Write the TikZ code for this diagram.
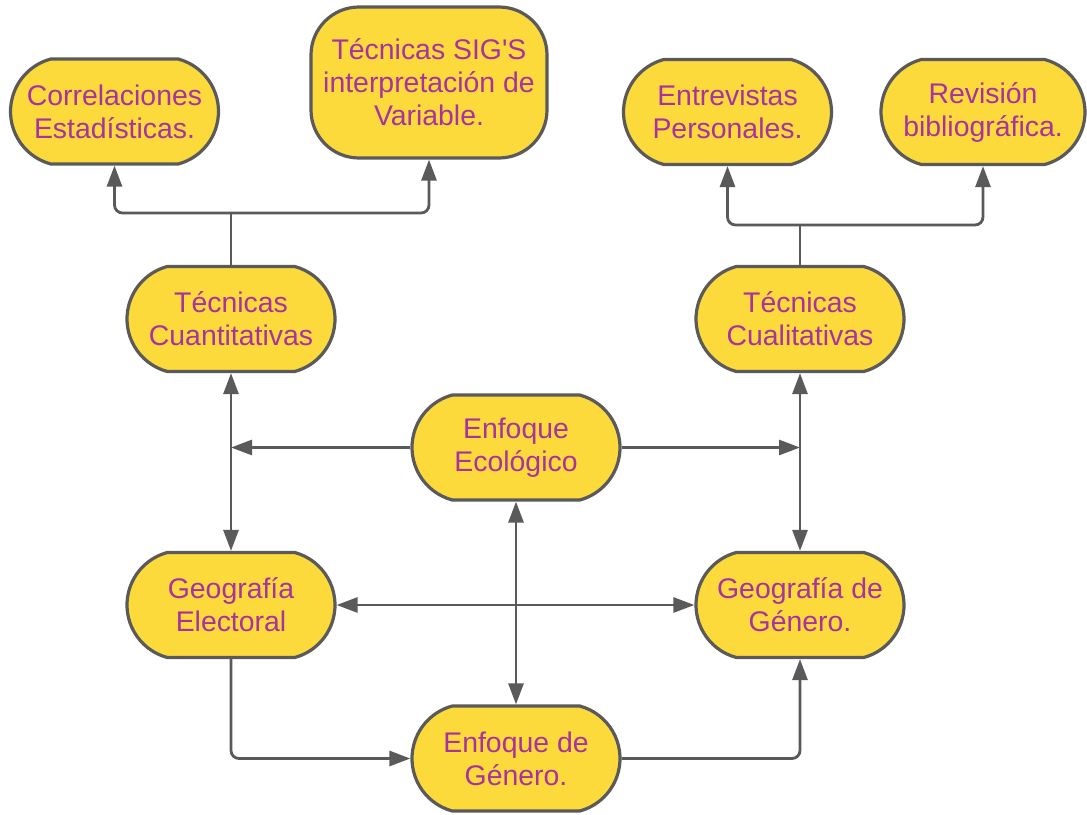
\documentclass[tikz,border=0pt]{standalone}
\usepackage{fontspec}
\setmainfont{Liberation Sans}
\usetikzlibrary{arrows.meta,shapes.misc}
\tikzset{>={Triangle[width=15pt,length=21pt]}}

\definecolor{boxfill}{HTML}{FCDA3C}
\definecolor{boxline}{HTML}{5A5A5A}
\definecolor{boxtext}{HTML}{A8329E}

\tikzset{
  pill/.style={rounded rectangle, rounded rectangle arc length=150,
    draw=boxline, line width=3.2pt, fill=boxfill, text=boxtext,
    align=center, inner sep=0pt,
    minimum width=208pt, minimum height=105pt,
    font=\fontsize{28.4}{33}\selectfont},
  tallbox/.style={rectangle, rounded corners=48pt,
    minimum width=236pt, minimum height=151pt},
  link/.style={draw=boxline, line width=2.8pt}
}

\begin{document}
\begin{tikzpicture}[x=1pt, y=-1pt]

  \fill[white] (0,0) rectangle (1087,814);
  \useasboundingbox (0,0) rectangle (1087,814);

  % top row
  \node[pill] (correl) at (114.5,111.5) {Correlaciones\\Estadísticas.};
  \node[pill, tallbox] (sig) at (429,82.5) {Técnicas SIG\textquotesingle S\\interpretación de\\Variable.};
  \node[pill] (entrev) at (727.5,112) {Entrevistas\\Personales.};
  \node[pill, minimum width=204pt] (revis) at (983,112) {Revisión\\bibliográfica.};

  % tecnicas
  \node[pill] (cuant) at (231,319) {Técnicas\\Cuantitativas};
  \node[pill] (cual) at (800,319) {Técnicas\\Cualitativas};

  % enfoques y geografias
  \node[pill] (ecol) at (516,447.5) {Enfoque\\Ecológico};
  \node[pill] (geoel) at (231,605) {Geografía\\Electoral};
  \node[pill] (geogen) at (800,605) {Geografía de\\Género.};
  \node[pill] (enfgen) at (516,758.5) {Enfoque de\\Género.};

  \coordinate (lsplit) at (cuant.north |- 0,213);
  \coordinate (rsplit) at (cual.north |- 0,225);

  \draw[link] (cuant.north) -- (lsplit);
  \draw[link, ->, rounded corners=8pt] (lsplit) -| (correl.south); %% cuant->correl
  \draw[link, ->, rounded corners=8pt] (lsplit) -| (sig.south); %% cuant->sig

  \draw[link] (cual.north) -- (rsplit);
  \draw[link, ->, rounded corners=8pt] (rsplit) -| (entrev.south); %% cual->entrev
  \draw[link, ->, rounded corners=8pt] (rsplit) -| (revis.south); %% cual->revis

  \draw[link, <->] (cuant.south) -- (geoel.north);
  \draw[link, <->] (cual.south) -- (geogen.north);

  \draw[link, ->] (ecol.west) -- (ecol.west -| cuant.south); % ecol->left
  \draw[link, ->] (ecol.east) -- (ecol.east -| cual.south); % ecol->right
  \draw[link, <->] (ecol.south) -- (enfgen.north);

  \draw[link, <->] (geoel.east) -- (geogen.west);

  \draw[link, ->, rounded corners=8pt] (geoel.south) |- (enfgen.west); %% geoel->enfgen
  \draw[link, ->, rounded corners=8pt] (enfgen.east) -| (geogen.south); %% enfgen->geogen

\end{tikzpicture}
\end{document}
